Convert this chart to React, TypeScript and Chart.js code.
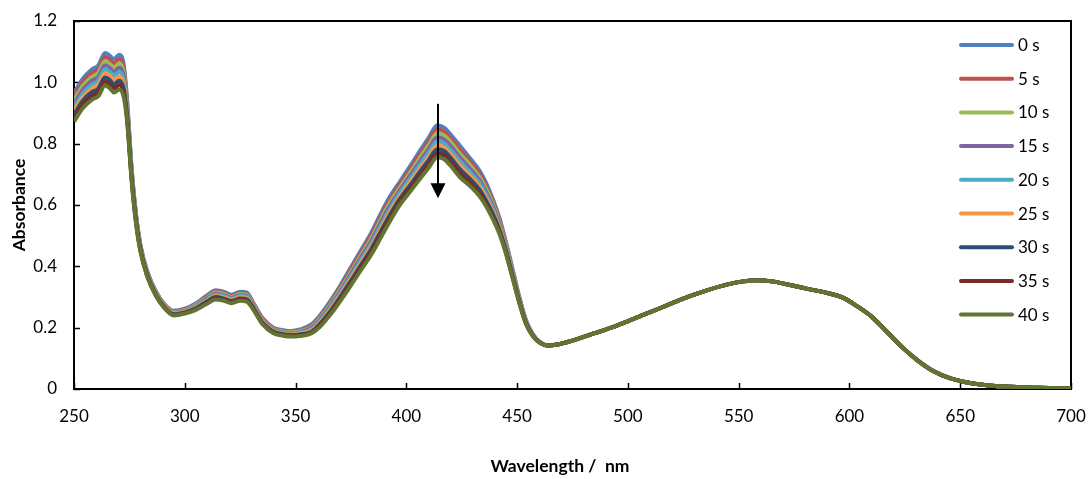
import { useEffect, useRef } from "react";
import { Chart, registerables } from "chart.js";

Chart.register(...registerables);

// ---------- data ----------
const seriesLabels = ["0 s", "5 s", "10 s", "15 s", "20 s", "25 s", "30 s", "35 s", "40 s"];
const seriesColors = ["#4F81BD", "#C0504D", "#9BBB59", "#8064A2", "#4BACC6", "#F79646", "#2C4D75", "#772C2A", "#5F7530"];

// wavelengths (nm) where the nine spectra differ
const headWavelengths = [250, 254, 258, 261, 264, 266, 268, 270.5, 272.5, 274, 276, 278, 280, 283, 287, 291, 295, 300, 305, 310, 314, 318, 321, 325, 328, 331, 335, 340, 345, 348, 352, 357, 361, 366, 370, 375, 380, 384, 388, 392, 397, 402, 406, 410, 414, 417, 420, 424, 429, 433, 436, 439, 442, 445, 448, 451, 454, 457, 460];

const abs0s = [0.965, 1.012, 1.042, 1.056, 1.096, 1.088, 1.076, 1.090, 1.055, 0.940, 0.720, 0.570, 0.470, 0.385, 0.318, 0.275, 0.255, 0.262, 0.279, 0.305, 0.322, 0.316, 0.307, 0.317, 0.314, 0.280, 0.232, 0.200, 0.191, 0.189, 0.194, 0.210, 0.240, 0.290, 0.335, 0.397, 0.458, 0.507, 0.565, 0.620, 0.675, 0.730, 0.775, 0.818, 0.860, 0.852, 0.830, 0.795, 0.750, 0.712, 0.672, 0.620, 0.558, 0.478, 0.390, 0.300, 0.225, 0.180, 0.155];
const abs5s = [0.953, 1.000, 1.030, 1.043, 1.083, 1.075, 1.062, 1.076, 1.042, 0.931, 0.715, 0.566, 0.467, 0.383, 0.316, 0.273, 0.253, 0.260, 0.276, 0.302, 0.318, 0.312, 0.304, 0.313, 0.310, 0.277, 0.230, 0.198, 0.189, 0.187, 0.191, 0.206, 0.235, 0.284, 0.329, 0.390, 0.450, 0.498, 0.555, 0.610, 0.666, 0.720, 0.764, 0.806, 0.847, 0.839, 0.817, 0.782, 0.739, 0.702, 0.662, 0.612, 0.552, 0.473, 0.386, 0.298, 0.223, 0.179, 0.155];
const abs10s = [0.942, 0.988, 1.017, 1.031, 1.069, 1.061, 1.049, 1.062, 1.029, 0.923, 0.710, 0.563, 0.465, 0.381, 0.314, 0.272, 0.251, 0.258, 0.274, 0.298, 0.315, 0.309, 0.300, 0.310, 0.307, 0.275, 0.227, 0.196, 0.187, 0.185, 0.189, 0.202, 0.231, 0.279, 0.323, 0.382, 0.442, 0.489, 0.546, 0.600, 0.656, 0.709, 0.752, 0.794, 0.834, 0.827, 0.805, 0.769, 0.728, 0.691, 0.653, 0.604, 0.545, 0.469, 0.383, 0.295, 0.222, 0.178, 0.154];
const abs15s = [0.930, 0.976, 1.005, 1.018, 1.056, 1.048, 1.035, 1.048, 1.016, 0.914, 0.705, 0.559, 0.462, 0.379, 0.312, 0.270, 0.249, 0.256, 0.271, 0.295, 0.311, 0.305, 0.297, 0.306, 0.303, 0.272, 0.225, 0.193, 0.184, 0.182, 0.186, 0.198, 0.226, 0.273, 0.316, 0.375, 0.434, 0.480, 0.536, 0.590, 0.647, 0.699, 0.741, 0.782, 0.821, 0.814, 0.792, 0.756, 0.716, 0.681, 0.643, 0.596, 0.539, 0.464, 0.379, 0.293, 0.220, 0.177, 0.154];
const abs20s = [0.919, 0.964, 0.993, 1.006, 1.043, 1.035, 1.022, 1.034, 1.003, 0.905, 0.700, 0.555, 0.459, 0.377, 0.311, 0.269, 0.248, 0.254, 0.269, 0.292, 0.307, 0.302, 0.294, 0.303, 0.300, 0.269, 0.222, 0.191, 0.182, 0.180, 0.184, 0.194, 0.222, 0.268, 0.310, 0.368, 0.426, 0.472, 0.526, 0.580, 0.638, 0.688, 0.730, 0.770, 0.808, 0.801, 0.779, 0.744, 0.705, 0.671, 0.634, 0.588, 0.532, 0.459, 0.375, 0.290, 0.219, 0.177, 0.154];
const abs25s = [0.907, 0.952, 0.980, 0.993, 1.030, 1.022, 1.008, 1.019, 0.989, 0.896, 0.695, 0.551, 0.456, 0.374, 0.309, 0.267, 0.246, 0.252, 0.266, 0.288, 0.303, 0.298, 0.290, 0.299, 0.296, 0.266, 0.220, 0.189, 0.180, 0.178, 0.181, 0.190, 0.217, 0.262, 0.304, 0.360, 0.417, 0.463, 0.516, 0.570, 0.628, 0.678, 0.718, 0.757, 0.795, 0.788, 0.766, 0.731, 0.694, 0.660, 0.624, 0.579, 0.526, 0.454, 0.371, 0.288, 0.217, 0.176, 0.153];
const abs30s = [0.895, 0.940, 0.968, 0.980, 1.016, 1.008, 0.994, 1.005, 0.976, 0.888, 0.690, 0.548, 0.454, 0.372, 0.307, 0.265, 0.244, 0.250, 0.263, 0.285, 0.300, 0.294, 0.287, 0.295, 0.292, 0.264, 0.217, 0.187, 0.178, 0.176, 0.178, 0.186, 0.212, 0.256, 0.298, 0.353, 0.409, 0.454, 0.507, 0.560, 0.619, 0.667, 0.707, 0.745, 0.782, 0.776, 0.754, 0.718, 0.683, 0.650, 0.614, 0.571, 0.519, 0.450, 0.368, 0.285, 0.215, 0.175, 0.153];
const abs35s = [0.884, 0.928, 0.955, 0.968, 1.003, 0.995, 0.981, 0.991, 0.963, 0.879, 0.685, 0.544, 0.451, 0.370, 0.305, 0.264, 0.242, 0.248, 0.261, 0.281, 0.296, 0.291, 0.283, 0.292, 0.289, 0.261, 0.215, 0.184, 0.175, 0.173, 0.176, 0.183, 0.208, 0.251, 0.291, 0.345, 0.401, 0.445, 0.497, 0.550, 0.609, 0.657, 0.695, 0.733, 0.769, 0.763, 0.741, 0.705, 0.671, 0.639, 0.605, 0.563, 0.513, 0.445, 0.364, 0.283, 0.214, 0.174, 0.152];
const abs40s = [0.872, 0.916, 0.943, 0.955, 0.990, 0.982, 0.967, 0.977, 0.950, 0.870, 0.680, 0.540, 0.448, 0.368, 0.303, 0.262, 0.240, 0.246, 0.258, 0.278, 0.292, 0.287, 0.280, 0.288, 0.285, 0.258, 0.212, 0.182, 0.173, 0.171, 0.173, 0.181, 0.203, 0.245, 0.285, 0.338, 0.393, 0.436, 0.487, 0.540, 0.600, 0.646, 0.684, 0.721, 0.756, 0.750, 0.728, 0.692, 0.660, 0.629, 0.596, 0.555, 0.506, 0.440, 0.360, 0.280, 0.212, 0.173, 0.152];

// beyond ~460 nm the nine spectra coincide
const tailWavelengths = [464, 468, 475, 485, 495, 505, 515, 525, 535, 545, 552, 558, 565, 572, 580, 590, 597, 603, 610, 617, 624, 631, 638, 645, 652, 660, 670, 685, 700];
const tailAbsorbance = [0.142, 0.145, 0.158, 0.182, 0.207, 0.236, 0.265, 0.295, 0.320, 0.341, 0.351, 0.355, 0.351, 0.341, 0.328, 0.313, 0.298, 0.272, 0.236, 0.186, 0.135, 0.092, 0.058, 0.036, 0.023, 0.014, 0.008, 0.004, 0.002];

// decreasing-band arrow (wavelength, absorbance from -> to)
const arrowWavelength = 414.3;
const arrowFrom = 0.93;
const arrowTo = 0.622;

const xTitle = "Wavelength /  nm";
const yTitle = "Absorbance";

const FONT = "Lato, 'Open Sans', sans-serif";

export default function App() {
  const ref = useRef<HTMLCanvasElement | null>(null);

  useEffect(() => {
    document.body.style.margin = "0";
    const canvas = ref.current;
    if (!canvas) return;

    const heads = [abs0s, abs5s, abs10s, abs15s, abs20s, abs25s, abs30s, abs35s, abs40s];
    const wl = [...headWavelengths, ...tailWavelengths];

    const datasets = heads.map((h, i) => ({
      label: seriesLabels[i],
      data: [...h, ...tailAbsorbance].map((v, j) => ({ x: wl[j], y: v })),
      borderColor: seriesColors[i],
      backgroundColor: seriesColors[i],
      borderWidth: 4,
      pointRadius: 0,
      pointHoverRadius: 0,
      fill: false,
      cubicInterpolationMode: "monotone" as const,
      order: heads.length - 1 - i,
    }));

    const zeroPad = (s: any) => {
      s.paddingLeft = 0;
      s.paddingRight = 0;
      s.paddingTop = 0;
      s.paddingBottom = 0;
    };

    const deco = {
      id: "deco",
      beforeDatasetsDraw(chart: any) {
        const { ctx, chartArea: a, scales } = chart;
        const xs = scales.x;
        const ys = scales.y;
        ctx.save();
        ctx.strokeStyle = "#000";
        ctx.lineWidth = 1.5;
        ctx.beginPath();
        xs.ticks.forEach((t: any) => {
          const px = Math.round(xs.getPixelForValue(t.value)) + 0.5;
          ctx.moveTo(px, a.bottom);
          ctx.lineTo(px, a.bottom - 6);
        });
        ys.ticks.forEach((t: any) => {
          const py = Math.round(ys.getPixelForValue(t.value)) + 0.5;
          ctx.moveTo(a.left, py);
          ctx.lineTo(a.left + 6, py);
        });
        ctx.stroke();
        ctx.lineWidth = 2;
        ctx.strokeRect(a.left, a.top, a.right - a.left, a.bottom - a.top);
        ctx.restore();
      },
      afterDatasetsDraw(chart: any) {
        const { ctx, scales } = chart;
        const px = scales.x.getPixelForValue(arrowWavelength);
        const top = scales.y.getPixelForValue(arrowFrom);
        const tip = scales.y.getPixelForValue(arrowTo);
        ctx.save();
        ctx.strokeStyle = "#000";
        ctx.fillStyle = "#000";
        ctx.lineWidth = 2;
        ctx.beginPath();
        ctx.moveTo(px, top);
        ctx.lineTo(px, tip - 12);
        ctx.stroke();
        ctx.beginPath();
        ctx.moveTo(px - 7.5, tip - 15);
        ctx.lineTo(px + 7.5, tip - 15);
        ctx.lineTo(px, tip);
        ctx.closePath();
        ctx.fill();
        ctx.restore();
      },
      afterDraw(chart: any) {
        const { ctx, chartArea: a } = chart;
        ctx.save();
        // legend
        ctx.font = `17px ${FONT}`;
        ctx.textAlign = "left";
        ctx.textBaseline = "alphabetic";
        seriesLabels.forEach((lab, i) => {
          const yy = a.top + 24 + i * 33.7;
          ctx.strokeStyle = seriesColors[i];
          ctx.lineWidth = 4;
          ctx.lineCap = "round";
          ctx.beginPath();
          ctx.moveTo(a.right - 110, yy);
          ctx.lineTo(a.right - 59, yy);
          ctx.stroke();
          ctx.fillStyle = "#000";
          ctx.fillText(lab, a.right - 53, yy + 6);
        });
        // axis titles
        ctx.font = `bold 17.5px ${FONT}`;
        ctx.fillStyle = "#000";
        ctx.textAlign = "center";
        ctx.fillText(xTitle, 560, 472);
        ctx.translate(25, (a.top + a.bottom) / 2);
        ctx.rotate(-Math.PI / 2);
        ctx.fillText(yTitle, 0, 0);
        ctx.restore();
      },
    };

    const chart = new Chart(canvas, {
      type: "line",
      data: { datasets: datasets as any },
      options: {
        animation: false,
        responsive: false,
        events: [],
        layout: { padding: { left: 0, right: 17, top: 21, bottom: 0 } },
        plugins: {
          legend: { display: false },
          tooltip: { enabled: false },
          title: { display: false },
        },
        scales: {
          x: {
            type: "linear",
            min: 250,
            max: 700,
            grid: { display: false, drawTicks: false },
            border: { display: false },
            ticks: {
              stepSize: 50,
              color: "#000",
              font: { family: FONT, size: 17 },
              padding: 17,
              maxRotation: 0,
              autoSkip: false,
            },
            afterFit: (s: any) => {
              s.height = 90;
              zeroPad(s);
            },
          },
          y: {
            type: "linear",
            min: 0,
            max: 1.2,
            grid: { display: false, drawTicks: false },
            border: { display: false },
            ticks: {
              stepSize: 0.2,
              color: "#000",
              font: { family: FONT, size: 17 },
              padding: 17,
            },
            afterFit: (s: any) => {
              s.width = 74;
              zeroPad(s);
            },
          },
        },
      },
      plugins: [deco],
    });

    return () => chart.destroy();
  }, []);

  return (
    <div style={{ width: 1088, height: 479 }}>
      <canvas ref={ref} width={1088} height={479} style={{ display: "block" }} />
    </div>
  );
}
